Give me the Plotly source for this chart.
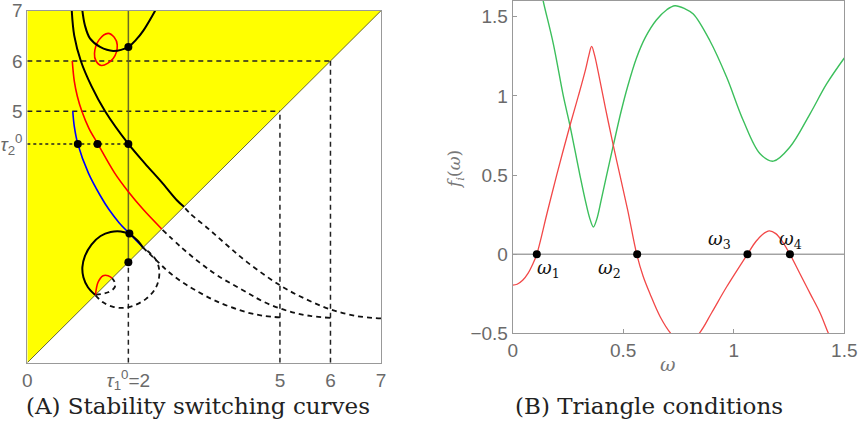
import plotly.graph_objects as go

# ---------------- Left panel (A) data ----------------
diag = [0, 7]
tau1_0 = 2.0
tau2_0 = 4.35
guide_vals = [5, 6]

black_main_x = [0.88, 0.93, 1.06, 1.27, 1.54, 2.0, 2.33, 2.65, 2.96, 3.10]
black_main_y = [7.0, 6.5, 6.0, 5.5, 5.0, 4.35, 3.96, 3.60, 3.23, 3.10]

red_main_x = [0.89, 0.93, 0.99, 1.08, 1.22, 1.39, 1.73, 2.00, 2.30, 2.66]
red_main_y = [6.0, 5.6, 5.3, 5.0, 4.66, 4.36, 3.77, 3.40, 3.04, 2.66]

blue_x = [0.90, 0.93, 1.00, 1.21, 1.44, 1.62, 1.82, 2.02, 2.29]
blue_y = [5.0, 4.7, 4.35, 3.77, 3.33, 3.04, 2.78, 2.57, 2.29]

loop_x = [1.34, 1.20, 1.11, 1.09, 1.14, 1.27, 1.45, 1.65, 1.85, 2.02, 2.17, 2.29]
loop_y = [1.35, 1.50, 1.70, 1.90, 2.12, 2.35, 2.52, 2.60, 2.61, 2.56, 2.44, 2.29]

small_red_x = [1.35, 1.40, 1.50, 1.60, 1.68]
small_red_y = [1.35, 1.60, 1.73, 1.73, 1.68]

top_arc_x = [1.09, 1.14, 1.24, 1.44, 1.70, 2.00, 2.15, 2.30, 2.53]
top_arc_y = [7.0, 6.71, 6.45, 6.28, 6.20, 6.28, 6.42, 6.61, 7.0]

ellipse_x = [1.60, 1.72, 1.78, 1.70, 1.47, 1.36, 1.33, 1.42, 1.60]
ellipse_y = [6.55, 6.47, 6.32, 6.05, 5.91, 6.00, 6.15, 6.42, 6.55]

dots_a_x = [2.0, 2.0, 1.39, 1.0, 2.02, 2.0]
dots_a_y = [6.28, 4.35, 4.35, 4.35, 2.57, 2.0]

xticks_a = [0, 2, 5, 6, 7]
xtick_text_a = ["0", "<i>τ</i><sub>1</sub><sup>0</sup>=2", "5", "6", "7"]
yticks_a = [4.35, 5, 6, 7]
ytick_text_a = ["<i>τ</i><sub>2</sub><sup>0</sup>", "5", "6", "7"]

# ---------------- Right panel (B) data ----------------
omega_red = [0.0, 0.02, 0.045, 0.07, 0.09, 0.109, 0.155, 0.199, 0.259, 0.297, 0.33, 0.345,
             0.357, 0.37, 0.387, 0.42, 0.455, 0.485, 0.52, 0.561, 0.59, 0.621, 0.667, 0.715,
             0.78, 0.844, 0.90, 0.968, 1.062, 1.10, 1.13, 1.161, 1.19, 1.22, 1.254, 1.30,
             1.345, 1.39, 1.428, 1.46]
f_red = [-0.195, -0.19, -0.165, -0.12, -0.065, 0.0, 0.257, 0.50, 0.813, 1.0, 1.17, 1.26,
         1.313, 1.26, 1.15, 0.92, 0.687, 0.50, 0.28, 0.0, -0.14, -0.25, -0.395, -0.50,
         -0.58, -0.50, -0.37, -0.206, 0.0, 0.08, 0.125, 0.147, 0.13, 0.08, 0.0, -0.125,
         -0.248, -0.37, -0.50, -0.60]

omega_green = [0.13, 0.138, 0.184, 0.229, 0.259, 0.304, 0.33, 0.35, 0.365, 0.38, 0.40, 0.425,
               0.455, 0.49, 0.52, 0.56, 0.60, 0.65, 0.697, 0.734, 0.78, 0.817, 0.892, 0.968,
               1.043, 1.119, 1.179, 1.254, 1.345, 1.42, 1.5]
f_green = [1.66, 1.60, 1.328, 1.0, 0.813, 0.50, 0.33, 0.22, 0.172, 0.22, 0.34, 0.50,
           0.687, 0.90, 1.06, 1.24, 1.37, 1.48, 1.545, 1.57, 1.55, 1.518, 1.349, 1.118,
           0.845, 0.635, 0.588, 0.677, 0.887, 1.076, 1.24]

omega_roots = [0.109, 0.563, 1.062, 1.254]
root_labels = ["<i>ω</i><sub>1</sub>", "<i>ω</i><sub>2</sub>", "<i>ω</i><sub>3</sub>", "<i>ω</i><sub>4</sub>"]
xticks_b = [0, 0.5, 1, 1.5]
xtick_text_b = ["0", "0.5", "1", "1.5"]
yticks_b = [-0.5, 0, 0.5, 1, 1.5]
ytick_text_b = ["−0.5", "0", "0.5", "1", "1.5"]

W, H = 860, 433
fig = go.Figure()

def dx(p):
    return p / W

def dy(p):
    return 1 - p / H

A = dict(xaxis="x", yaxis="y")
B = dict(xaxis="x2", yaxis="y2")

fig.add_trace(go.Scatter(x=[diag[0], diag[1], diag[0], diag[0]], y=[diag[0], diag[1], diag[1], diag[0]],
                         fill="toself", fillcolor="#ffff00", mode="lines", line=dict(width=0),
                         hoverinfo="skip", **A))
fig.add_trace(go.Scatter(x=diag, y=diag, mode="lines", line=dict(color="rgba(90,90,40,0.9)", width=1), **A))

dash_style = "5px,4px"
for g in guide_vals:
    fig.add_trace(go.Scatter(x=[0, g], y=[g, g], mode="lines", line=dict(color="#222", width=1.5, dash=dash_style), **A))
    fig.add_trace(go.Scatter(x=[g, g], y=[0, g], mode="lines", line=dict(color="#222", width=1.5, dash=dash_style), **A))
fig.add_trace(go.Scatter(x=[0, tau1_0], y=[tau2_0, tau2_0], mode="lines", line=dict(color="#222", width=1.5, dash="3px,3px"), **A))
fig.add_trace(go.Scatter(x=[tau1_0, tau1_0], y=[0, tau1_0], mode="lines", line=dict(color="#222", width=1.5, dash=dash_style), **A))
fig.add_trace(go.Scatter(x=[tau1_0, tau1_0], y=[tau1_0, 7], mode="lines", line=dict(color="rgba(90,90,40,0.9)", width=1.5), **A))

for cx, cy in [(black_main_x, black_main_y), (red_main_x, red_main_y), (blue_x, blue_y),
               (loop_x, loop_y), (small_red_x, small_red_y)]:
    fig.add_trace(go.Scatter(x=cy, y=cx, mode="lines", line=dict(color="#111", width=1.8, dash=dash_style, shape="spline"), **A))

fig.add_trace(go.Scatter(x=blue_x, y=blue_y, mode="lines", line=dict(color="#0000ff", width=1.6, shape="spline"), **A))
fig.add_trace(go.Scatter(x=red_main_x, y=red_main_y, mode="lines", line=dict(color="#ff0000", width=1.6, shape="spline"), **A))
fig.add_trace(go.Scatter(x=small_red_x, y=small_red_y, mode="lines", line=dict(color="#ff0000", width=1.6, shape="spline"), **A))
fig.add_trace(go.Scatter(x=ellipse_x, y=ellipse_y, mode="lines", line=dict(color="#ff0000", width=1.6, shape="spline"), **A))
fig.add_trace(go.Scatter(x=black_main_x, y=black_main_y, mode="lines", line=dict(color="#000", width=2, shape="spline"), **A))
fig.add_trace(go.Scatter(x=loop_x, y=loop_y, mode="lines", line=dict(color="#000", width=2, shape="spline"), **A))
fig.add_trace(go.Scatter(x=top_arc_x, y=top_arc_y, mode="lines", line=dict(color="#000", width=2, shape="spline"), **A))
fig.add_trace(go.Scatter(x=dots_a_x, y=dots_a_y, mode="markers", marker=dict(color="#000", size=8), **A))

fig.add_trace(go.Scatter(x=[0, 1.5], y=[0, 0], mode="lines", line=dict(color="#777", width=1), **B))
fig.add_trace(go.Scatter(x=omega_green, y=f_green, mode="lines", line=dict(color="#3cbf5c", width=1.4, shape="spline"), **B))
fig.add_trace(go.Scatter(x=omega_red, y=f_red, mode="lines", line=dict(color="#f24848", width=1.3, shape="spline"), **B))
fig.add_trace(go.Scatter(x=omega_roots, y=[0] * len(omega_roots), mode="markers", marker=dict(color="#000", size=8), **B))

tickfont = dict(family="Liberation Sans, Arial, sans-serif", size=19, color="#6a6a6a")
axis_common = dict(showgrid=False, zeroline=False, showline=True, mirror=True, linecolor="#999",
                   linewidth=1, tickfont=tickfont, tickmode="array", automargin=False)

fig.update_layout(
    width=W, height=H, margin=dict(l=0, r=0, t=0, b=0, autoexpand=False),
    paper_bgcolor="white", plot_bgcolor="white", showlegend=False,
    xaxis=dict(domain=[dx(27.3), dx(381)], range=[0, 7], tickvals=xticks_a, ticktext=xtick_text_a,
               ticks="", anchor="y", **axis_common),
    yaxis=dict(domain=[dy(362.7), dy(10.7)], range=[0, 7], tickvals=yticks_a, ticktext=ytick_text_a,
               ticks="", anchor="x", **axis_common),
    xaxis2=dict(domain=[dx(512.7), dx(844.3)], range=[0, 1.5], tickvals=xticks_b, ticktext=xtick_text_b,
                ticks="inside", ticklen=4, tickcolor="#999", anchor="y2", **axis_common),
    yaxis2=dict(domain=[dy(333.3), dy(1)], range=[-0.5, 1.6], tickvals=yticks_b, ticktext=ytick_text_b,
                ticks="inside", ticklen=4, tickcolor="#999", anchor="x2", **axis_common),
)

serif = "DejaVu Serif, Liberation Serif, serif"
anns = []
for txt, (xp, yp) in [("(A) Stability switching curves", (197.5, 406)), ("(B) Triangle conditions", (649, 406))]:
    anns.append(dict(text=txt, x=dx(xp), y=dy(yp), xref="paper", yref="paper", showarrow=False,
                     font=dict(family=serif, size=23, color="#222"), xanchor="center", yanchor="middle"))
anns.append(dict(text="<i>ω</i>", x=dx(678), y=dy(377), xref="paper", yref="paper", showarrow=False,
                 font=dict(family="DejaVu Serif, serif", size=19, color="#777")))
anns.append(dict(text="<i>f<sub>i</sub></i>(<i>ω</i>)", x=dx(455), y=dy(170), xref="paper", yref="paper",
                 showarrow=False, textangle=-90, font=dict(family="DejaVu Serif, serif", size=17, color="#777")))
label_pos = [(548, 269), (623, 269), (733, 240), (804, 240)]
for lab, (xp, yp) in zip(root_labels, label_pos):
    anns.append(dict(text=lab, x=dx(xp), y=dy(yp), xref="paper", yref="paper", showarrow=False,
                     font=dict(family="DejaVu Serif, serif", size=18, color="#111")))
fig.update_layout(annotations=anns)

# remove the browser's default body margin so the figure sits at the window's top-left corner
fig.write_html("out.html", config={"displayModeBar": False},
               post_script="document.body.style.margin='0px';document.body.style.overflow='hidden';")
